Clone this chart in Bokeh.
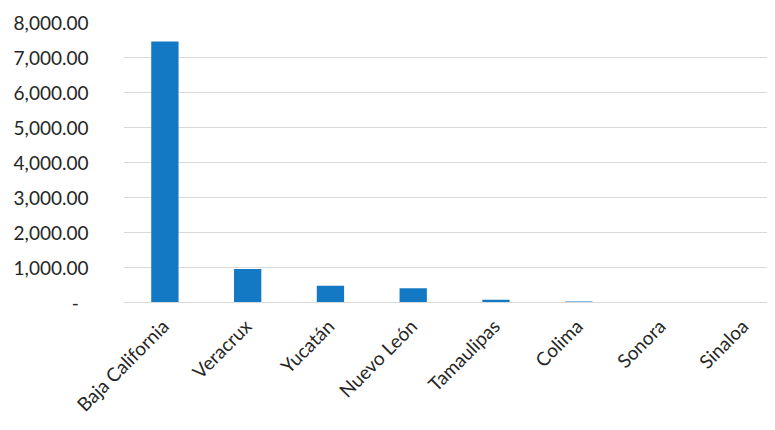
import math
from bokeh.plotting import figure
from bokeh.models import Range1d, FixedTicker, NumeralTickFormatter, ColumnDataSource
from bokeh.embed import file_html
from bokeh.resources import INLINE

states = ["Baja California", "Veracrux", "Yucatán", "Nuevo León", "Tamaulipas", "Colima", "Sonora", "Sinaloa"]
values = [7460, 960, 480, 410, 80, 30, 4, 2]
y_ticks = [0, 1000, 2000, 3000, 4000, 5000, 6000, 7000, 8000]

xpos = [i + 0.5 for i in range(len(states))]
src = ColumnDataSource(dict(x=xpos, top=values, name=states))

p = figure(width=767, height=428, output_backend="svg", toolbar_location=None,
           x_range=Range1d(0, 7.78), y_range=Range1d(0, 8000),
           min_border_left=123, min_border_right=0, min_border_top=22, min_border_bottom=126)
p.outline_line_color = None
p.background_fill_color = "white"
p.border_fill_color = "white"

p.vbar(x="x", top="top", bottom=0, width=0.33, source=src, color="#1479c4", line_color=None)

p.xgrid.grid_line_color = None
p.ygrid.grid_line_color = "#d9d9d9"
p.ygrid.grid_line_width = 1
p.ygrid.ticker = FixedTicker(ticks=y_ticks)

ya = p.yaxis[0]
ya.ticker = FixedTicker(ticks=y_ticks)
ya.formatter = NumeralTickFormatter(format="0,0.00")
ya.major_label_overrides = {0: "-  "}
ya.axis_line_color = None
ya.major_tick_line_color = None
ya.minor_tick_line_color = None
ya.major_label_standoff = 29
ya.major_label_text_font = "Lato"
ya.major_label_text_font_size = "19px"
ya.major_label_text_color = "#262626"

xa = p.xaxis[0]
xa.ticker = FixedTicker(ticks=xpos)
xa.major_label_overrides = {x: s for x, s in zip(xpos, states)}
xa.major_label_orientation = math.pi / 4
xa.axis_line_color = "#d9d9d9"
xa.major_tick_line_color = None
xa.minor_tick_line_color = None
xa.major_label_standoff = 14
xa.major_label_text_font = "Lato"
xa.major_label_text_font_size = "19px"
xa.major_label_text_color = "#262626"

open("out.html", "w").write(file_html(p, INLINE))
